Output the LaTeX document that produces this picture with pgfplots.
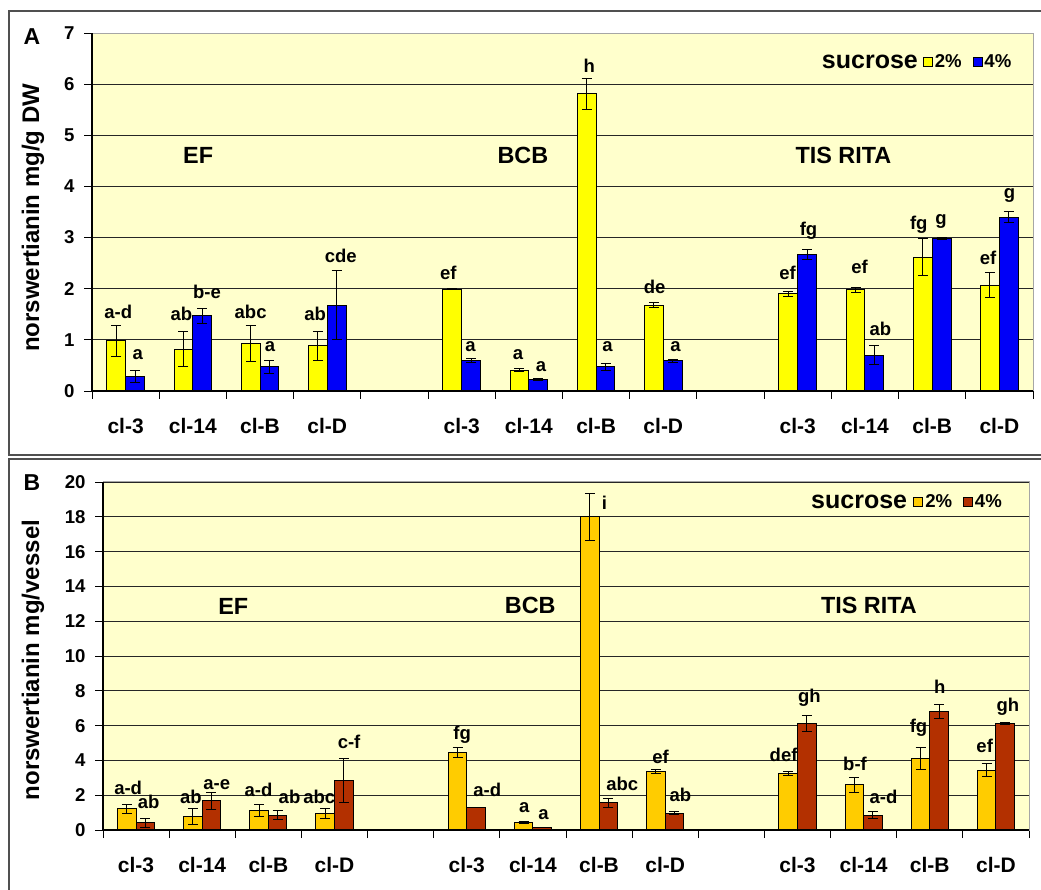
\documentclass[border=0pt]{standalone}
\usepackage{fontspec}
\setmainfont{Liberation Sans}
\usepackage{pgfplots}
\pgfplotsset{compat=1.18}
\usepackage{pgfplotstable}

\definecolor{bgy}{HTML}{FFFFCC}
\definecolor{yel}{HTML}{FFFF00}
\definecolor{blu}{HTML}{0000F8}
\definecolor{org}{HTML}{FFCC00}
\definecolor{brn}{HTML}{B33000}
\definecolor{frm}{HTML}{505050}

\newcommand{\fs}[1]{\fontsize{#1}{#1}\selectfont\bfseries}
\newcommand{\lab}[3]{\node[font=\fs{18.5}, text height=13pt, text depth=0pt, inner sep=0pt] at (axis cs:#1,#2) {#3};}
\newcommand{\grp}[3]{\node[font=\fs{23.4}, inner sep=0pt] at (axis cs:#1,#2) {#3};}

% Panel A
\pgfplotstableread{
x y e
-0.14 0.98 0.30
0.86 0.82 0.35
1.86 0.93 0.36
2.86 0.88 0.29
4.86 1.99 0.01
5.86 0.41 0.03
6.86 5.81 0.30
7.86 1.68 0.05
9.86 1.90 0.05
10.86 1.98 0.05
11.86 2.62 0.36
12.86 2.07 0.24
}\Ayel
\pgfplotstableread{
x y e
0.14 0.29 0.12
1.14 1.47 0.15
2.14 0.47 0.12
3.14 1.68 0.67
5.14 0.59 0.04
6.14 0.23 0.02
7.14 0.47 0.06
8.14 0.59 0.03
10.14 2.67 0.09
11.14 0.70 0.18
12.14 2.98 0.02
13.14 3.40 0.10
}\Ablu
% Panel B
\pgfplotstableread{
x y e
-0.14 1.21 0.27
0.86 0.77 0.44
1.86 1.13 0.35
2.86 0.94 0.27
4.86 4.48 0.29
5.86 0.42 0.07
6.86 17.99 1.34
7.86 3.35 0.10
9.86 3.27 0.12
10.86 2.60 0.42
11.86 4.13 0.63
12.86 3.44 0.37
}\Borg
\pgfplotstableread{
x y e
0.14 0.42 0.25
1.14 1.67 0.50
2.14 0.86 0.25
3.14 2.85 1.28
5.14 1.30 0.02
6.14 0.15 0.02
7.14 1.57 0.25
8.14 0.96 0.08
10.14 6.12 0.44
11.14 0.86 0.20
12.14 6.81 0.42
13.14 6.12 0.06
}\Bred

\pgfplotsset{
  panel/.style={
    scale only axis, clip=false,
    xmin=-0.5, xmax=13.5, ymin=0,
    axis background/.style={fill=bgy},
    axis line style={draw=black!35, line width=1pt},
    ymajorgrids, grid style={black!85, line width=0.9pt},
    tick align=outside, tick pos=left,
    tick style={black, line width=0.9pt}, major tick length=8pt,
    xtick={-0.5,0.5,...,13.5}, xticklabels={},
    extra x ticks={0,1,2,3,5,6,7,8,10,11,12,13},
    extra x tick labels={cl-3,cl-14,cl-B,cl-D,cl-3,cl-14,cl-B,cl-D,cl-3,cl-14,cl-B,cl-D},
    extra x tick style={major tick length=0pt, grid=none,
      tick label style={font=\fs{21}, yshift=-24pt}},
    yticklabel style={font=\fs{18.6}, xshift=-6pt},
    /pgf/number format/assume math mode=true,
    legend style={draw=none, fill=none, inner sep=0pt, font=\fs{18.6},
      legend columns=2, /tikz/every even column/.append style={column sep=9pt},
      legend cell align=left},
    legend image code/.code={\draw[#1,/tikz/.cd,line width=0.8pt] (0pt,-4.5pt) rectangle (9pt,4.5pt);},
  },
  bars/.style={ybar, bar shift=0pt, bar width=0.28, draw=black, line width=1pt,
    error bars/y dir=both, error bars/y explicit,
    error bars/error mark=-,
    error bars/error bar style={black, line width=1pt},
    error bars/error mark options={rotate=90, black, mark size=5pt, line width=1pt}},
}

\begin{document}
\begin{tikzpicture}
\fill[white] (0,0) rectangle (1041pt,889pt);
\useasboundingbox (0,0) rectangle (1041pt,889pt);
\draw[frm, line width=1.6pt] (1060pt,878pt) -- (9pt,878pt) -- (9pt,434pt) -- (1060pt,434pt);
\draw[frm, line width=1.6pt] (1060pt,430pt) -- (9pt,430pt) -- (9pt,-10pt);

% ---------- Panel A ----------
\begin{axis}[panel, at={(92pt,498pt)}, anchor=south west,
  width=941pt, height=358pt, ymax=7, ytick={0,1,...,7},
  legend style={at={(axis cs:11.86,6.43)}, anchor=west}]
\addplot[bars, fill=yel] table[x=x, y=y, y error=e] {\Ayel};
\addplot[bars, fill=blu] table[x=x, y=y, y error=e] {\Ablu};
\legend{2\%, 4\%}
\draw[black, line width=1.1pt] (rel axis cs:0,1) -- (rel axis cs:0,0) -- (rel axis cs:1,0);
\node[font=\fs{25}, anchor=east, inner sep=0pt] at (axis cs:11.79,6.43) {sucrose};
\grp{1.08}{4.6}{EF}
\grp{5.91}{4.6}{BCB}
\grp{10.68}{4.6}{TIS RITA}
\lab{-0.11}{1.55}{a-d}
\lab{0.18}{0.74}{a}
\lab{0.83}{1.50}{ab}
\lab{1.21}{1.94}{b-e}
\lab{1.86}{1.55}{abc}
\lab{2.15}{0.90}{a}
\lab{2.82}{1.50}{ab}
\lab{3.20}{2.63}{cde}
\lab{4.80}{2.30}{ef}
\lab{5.13}{0.90}{a}
\lab{5.84}{0.74}{a}
\lab{6.18}{0.50}{a}
\lab{6.90}{6.35}{h}
\lab{7.17}{0.90}{a}
\lab{7.87}{2.03}{de}
\lab{8.18}{0.90}{a}
\lab{9.85}{2.30}{ef}
\lab{10.16}{3.17}{fg}
\lab{10.92}{2.43}{ef}
\lab{11.23}{1.21}{ab}
\lab{11.80}{3.29}{fg}
\lab{12.13}{3.38}{g}
\lab{12.83}{2.61}{ef}
\lab{13.15}{3.90}{g}
\end{axis}
\node[font=\fs{23}] at (32pt,852pt) {A};
\node[font=\fs{24}, rotate=90] at (33pt,671pt) {norswertianin mg/g DW};

% ---------- Panel B ----------
\begin{axis}[panel, at={(103pt,59pt)}, anchor=south west,
  width=926pt, height=348pt, ymax=20, ytick={0,2,...,20},
  legend style={at={(axis cs:11.75,18.85)}, anchor=west}]
\addplot[bars, fill=org] table[x=x, y=y, y error=e] {\Borg};
\addplot[bars, fill=brn] table[x=x, y=y, y error=e] {\Bred};
\legend{2\%, 4\%}
\draw[black, line width=1.1pt] (rel axis cs:0,1) -- (rel axis cs:0,0) -- (rel axis cs:1,0);
\node[font=\fs{25}, anchor=east, inner sep=0pt] at (axis cs:11.66,18.85) {sucrose};
\grp{1.47}{12.82}{EF}
\grp{5.96}{12.9}{BCB}
\grp{11.08}{12.92}{TIS RITA}
\lab{-0.12}{2.43}{a-d}
\lab{0.19}{1.59}{ab}
\lab{0.83}{1.91}{ab}
\lab{1.22}{2.68}{a-e}
\lab{1.85}{2.30}{a-d}
\lab{2.32}{1.91}{ab}
\lab{2.77}{1.91}{abc}
\lab{3.22}{5.03}{c-f}
\lab{4.93}{5.59}{fg}
\lab{5.31}{2.30}{a-d}
\lab{5.87}{1.38}{a}
\lab{6.16}{0.96}{a}
\lab{7.08}{18.81}{i}
\lab{7.35}{2.62}{abc}
\lab{7.93}{4.21}{ef}
\lab{8.23}{2.01}{ab}
\lab{9.79}{4.31}{def}
\lab{10.18}{7.69}{gh}
\lab{10.87}{3.79}{b-f}
\lab{11.30}{1.91}{a-d}
\lab{11.83}{5.97}{fg}
\lab{12.15}{8.19}{h}
\lab{12.83}{4.82}{ef}
\lab{13.18}{7.18}{gh}
\end{axis}
\node[font=\fs{23}] at (32pt,406pt) {B};
\node[font=\fs{24}, rotate=90] at (33pt,229pt) {norswertianin mg/vessel};
\end{tikzpicture}
\end{document}
